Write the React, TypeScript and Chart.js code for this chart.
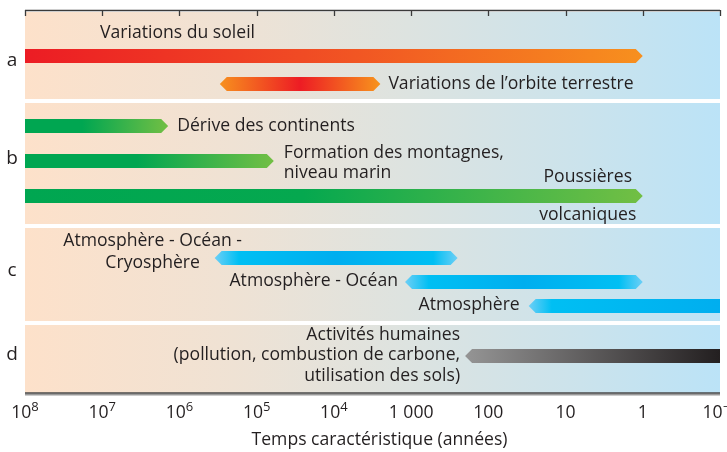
import React, { useEffect, useRef } from "react";
import { Chart, registerables } from "chart.js";

Chart.register(...registerables);

// ---------- DATA ----------
const CATEGORIES = [
  "Variations du soleil",
  "Variations de l’orbite terrestre",
  "Dérive des continents",
  "Formation des montagnes, niveau marin",
  "Poussières volcaniques",
  "Atmosphère - Océan - Cryosphère",
  "Atmosphère - Océan",
  "Atmosphère",
  "Activités humaines",
];
const GROUPS = ["a", "b", "c", "d"];
const GROUP_OF = [0, 0, 1, 1, 1, 2, 2, 2, 3];
// characteristic time span (years): from longest to shortest
const START_YEARS = [1e8, 3e5, 1e8, 1e8, 1e8, 3.5e5, 1200, 30, 200];
const END_YEARS = [1, 2500, 1.4e6, 6e4, 1, 250, 1, 0.1, 0.1];
const TICK_VALUES = [1e8, 1e7, 1e6, 1e5, 1e4, 1000, 100, 10, 1, 0.1];
const TICK_LABELS = ["10^8", "10^7", "10^6", "10^5", "10^4", "1 000", "100", "10", "1", "10^−1"];
const AXIS_TITLE = "Temps caractéristique (années)";
const LABEL_LINES = [
  ["Variations du soleil"],
  ["Variations de l’orbite terrestre"],
  ["Dérive des continents"],
  ["Formation des montagnes,", "niveau marin"],
  ["Poussières", "volcaniques"],
  ["Atmosphère - Océan -", "Cryosphère"],
  ["Atmosphère - Océan"],
  ["Atmosphère"],
  ["Activités humaines", "(pollution, combustion de carbone,", "utilisation des sols)"],
];

// ---------- LAYOUT / STYLE ----------
const W = 727;
const H = 452;
const FONT = "'Open Sans', Lato, sans-serif";
const FS = 17.6;
const TEXT = "#231f20";
const LANE_Y = [46, 74, 116, 151, 186, 248, 272, 296, 346]; // lane centres in plot units (0 = top)
const Y_MAX = 383;
const SEPARATORS = [91, 216, 313];
const GROUP_LABEL_Y = [51, 149, 261, 345];
const BAR_H = 14;
const GRADS: [number, string][][] = [
  [[0, "#ec1c24"], [0.45, "#f04b24"], [1, "#f7901e"]],
  [[0, "#f7901e"], [0.5, "#ed1c24"], [1, "#f7941d"]],
  [[0, "#00a651"], [0.4, "#00a651"], [1, "#72bf44"]],
  [[0, "#00a651"], [0.45, "#00a651"], [1, "#72bf44"]],
  [[0, "#00a651"], [0.45, "#05a84f"], [1, "#72bf44"]],
  [[0, "#6dcff6"], [0.1, "#00bff3"], [0.5, "#00aeef"], [0.9, "#00bff3"], [1, "#6dcff6"]],
  [[0, "#6dcff6"], [0.1, "#00bff3"], [0.5, "#00aeef"], [0.9, "#00bff3"], [1, "#6dcff6"]],
  [[0, "#6dcff6"], [0.12, "#00bff3"], [1, "#00aeef"]],
  [[0, "#959595"], [1, "#231f20"]],
];
// label placement: anchor to bar start/end, offset, alignment, line offsets
type Place = { anchor: "start" | "end"; dx: number; align: CanvasTextAlign; dys: number[] };
const PLACES: Place[] = [
  { anchor: "start", dx: 75, align: "left", dys: [-23] },
  { anchor: "end", dx: 8, align: "left", dys: [0] },
  { anchor: "end", dx: 9, align: "left", dys: [0] },
  { anchor: "end", dx: 10, align: "left", dys: [-8, 12] },
  { anchor: "end", dx: -55, align: "center", dys: [-19, 19] },
  { anchor: "start", dx: -62, align: "center", dys: [-17, 5] },
  { anchor: "start", dx: -7, align: "right", dys: [-1] },
  { anchor: "start", dx: -9, align: "right", dys: [-1] },
  { anchor: "start", dx: -5, align: "right", dys: [-21, -1, 20] },
];

const drawPlugin = {
  id: "timescales",
  beforeDatasetsDraw(chart: any) {
    const { ctx, chartArea: a } = chart;
    ctx.save();
    const g = ctx.createLinearGradient(a.left, 0, a.right, 0);
    g.addColorStop(0, "#fde1ca");
    g.addColorStop(0.3, "#efe2d4");
    g.addColorStop(0.55, "#dde3e0");
    g.addColorStop(0.8, "#cbe3ec");
    g.addColorStop(1, "#bbe3f7");
    ctx.fillStyle = g;
    ctx.fillRect(a.left, a.top + 2, a.right - a.left, a.bottom - a.top - 2);
    const ys = chart.scales.y;
    ctx.fillStyle = "#ffffff";
    SEPARATORS.forEach((s) => {
      const y = ys.getPixelForValue(s);
      ctx.fillRect(a.left, y - 2, a.right - a.left, 4);
    });
    ctx.restore();
  },
  afterDatasetsDraw(chart: any) {
    const { ctx, chartArea: a } = chart;
    const xs = chart.scales.x;
    const ys = chart.scales.y;
    const meta = chart.getDatasetMeta(0);
    ctx.save();
    meta.data.forEach((el: any, i: number) => {
      const x0 = Math.min(el.x, el.base);
      const x1 = Math.max(el.x, el.base);
      const y = el.y;
      const h = BAR_H;
      const d = h / 2;
      const ptL = START_YEARS[i] < xs.max;
      const ptR = END_YEARS[i] > xs.min;
      ctx.beginPath();
      ctx.moveTo(ptL ? x0 + d : x0, y - h / 2);
      ctx.lineTo(ptR ? x1 - d : x1, y - h / 2);
      if (ptR) ctx.lineTo(x1, y);
      ctx.lineTo(ptR ? x1 - d : x1, y + h / 2);
      ctx.lineTo(ptL ? x0 + d : x0, y + h / 2);
      if (ptL) ctx.lineTo(x0, y);
      ctx.closePath();
      const g = ctx.createLinearGradient(x0, 0, x1, 0);
      GRADS[i].forEach(([p, c]) => g.addColorStop(p, c));
      ctx.fillStyle = g;
      ctx.fill();

      // labels
      const pl = PLACES[i];
      const ax = pl.anchor === "start" ? x0 : x1;
      ctx.font = `${FS}px ${FONT}`;
      ctx.fillStyle = TEXT;
      ctx.textAlign = pl.align;
      ctx.textBaseline = "middle";
      LABEL_LINES[i].forEach((line, k) => {
        ctx.fillText(line, ax + pl.dx, y + pl.dys[k]);
      });
    });

    // group letters
    ctx.font = `19px ${FONT}`;
    ctx.textAlign = "center";
    ctx.textBaseline = "middle";
    ctx.fillStyle = TEXT;
    GROUPS.forEach((gname, gi) => {
      ctx.fillText(gname, 12, ys.getPixelForValue(GROUP_LABEL_Y[gi]));
    });

    // top axis with inward ticks
    ctx.strokeStyle = "#3a3a3a";
    ctx.lineWidth = 1.3;
    ctx.beginPath();
    ctx.moveTo(a.left, a.top + 0.5);
    ctx.lineTo(a.right, a.top + 0.5);
    TICK_VALUES.forEach((v) => {
      const x = Math.round(xs.getPixelForValue(v)) + 0.5;
      ctx.moveTo(x, a.top);
      ctx.lineTo(x, a.top + 6);
    });
    ctx.stroke();

    // bottom axis
    ctx.strokeStyle = "#9a9a9a";
    ctx.lineWidth = 2;
    ctx.beginPath();
    ctx.moveTo(a.left, a.bottom + 1.5);
    ctx.lineTo(a.right, a.bottom + 1.5);
    ctx.stroke();
    ctx.strokeStyle = "#4a4a4a";
    ctx.lineWidth = 1.3;
    ctx.beginPath();
    ctx.moveTo(a.left, a.bottom);
    ctx.lineTo(a.right, a.bottom);
    ctx.stroke();

    // tick labels with superscripts
    const labelY = a.bottom + 20;
    TICK_VALUES.forEach((v, i) => {
      const x = xs.getPixelForValue(v);
      const [base, exp] = TICK_LABELS[i].split("^");
      ctx.textBaseline = "middle";
      ctx.textAlign = "left";
      ctx.font = `${FS}px ${FONT}`;
      const bw = ctx.measureText(base).width;
      let ew = 0;
      if (exp) {
        ctx.font = `13px ${FONT}`;
        ew = ctx.measureText(exp).width;
      }
      const sx = x - (bw + ew) / 2;
      ctx.font = `${FS}px ${FONT}`;
      ctx.fillText(base, sx, labelY);
      if (exp) {
        ctx.font = `13px ${FONT}`;
        ctx.fillText(exp, sx + bw, labelY - 6);
      }
    });

    ctx.font = `${FS}px ${FONT}`;
    ctx.textAlign = "center";
    ctx.fillText(AXIS_TITLE, (a.left + a.right) / 2 + 7, a.bottom + 47);
    ctx.restore();
  },
};

export default function App() {
  const ref = useRef<HTMLCanvasElement | null>(null);
  useEffect(() => {
    if (!ref.current) return;
    const chart = new Chart(ref.current, {
      type: "bar",
      data: {
        labels: CATEGORIES,
        datasets: [
          {
            label: "Temps caractéristique",
            data: CATEGORIES.map((_, i) => ({ x: [START_YEARS[i], END_YEARS[i]], y: LANE_Y[i] })) as any,
            backgroundColor: "rgba(0,0,0,0)",
            borderWidth: 0,
            barThickness: BAR_H,
          },
        ],
      },
      options: {
        indexAxis: "y",
        responsive: false,
        animation: false,
        layout: { padding: { left: 25, right: 7, top: 10, bottom: 59 } },
        plugins: { legend: { display: false }, tooltip: { enabled: false } },
        scales: {
          x: { type: "logarithmic", min: 0.1, max: 1e8, reverse: true, display: false },
          y: { type: "linear", min: 0, max: Y_MAX, reverse: true, display: false, offset: false },
        },
      },
      plugins: [drawPlugin],
    });
    return () => chart.destroy();
  }, []);
  return (
    <div style={{ position: "absolute", left: 0, top: 0, width: W, height: H, background: "#fff" }}>
      <canvas ref={ref} width={W} height={H} style={{ width: W, height: H, display: "block" }} />
    </div>
  );
}
